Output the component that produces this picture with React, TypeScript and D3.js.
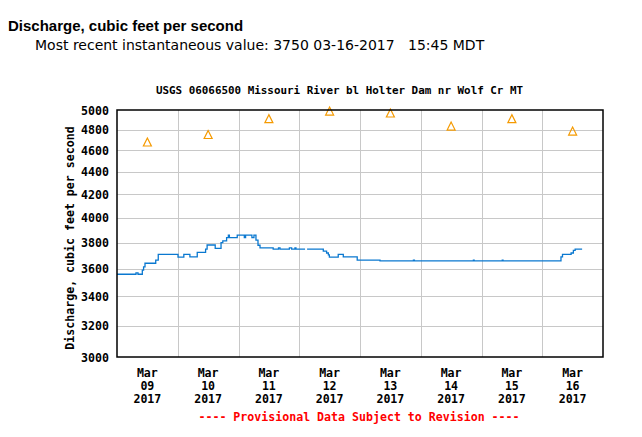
import React from "react";
import * as d3 from "d3";

// Instantaneous discharge, step changes (hours after 2017-03-09 00:00 MST, value cfs; null = gap)
const stepHours = [
  0, 7.5, 8.3, 10, 10.5, 11.06, 15.3, 16.3, 24.1, 26.4, 28.8, 31.7, 35.0, 35.6, 38.8, 41.1, 41.8,
  43.3, 44.0, 44.4, 47.5, 50.3, 50.8, 53.3, 54.1, 54.9, 55.7, 56.5, 61.7, 63.8, 64.4, 68.1, 69.0,
  70.3, 70.7, 74.3, 74.35, 75.1, 81.5, 82.8, 83.5, 83.9, 87.4, 89.4, 94.9, 103.9, 117.1, 117.5, 140.8,
  141.1, 152.2, 152.5, 175.4, 176.0, 179.4, 180.3, 181.0, 183.75,
];
const stepValues: (number | null)[] = [
  3560, 3570, 3560, 3590, 3615, 3642, 3666, 3710, 3688, 3710, 3690, 3725, 3750, 3782, 3755, 3800, 3815,
  3840, 3860, 3840, 3860, 3840, 3860, 3840, 3860, 3820, 3780, 3760, 3750, 3760, 3750, 3760, 3750,
  3760, 3750, 3750, null, 3750, 3735, 3720, 3705, 3688, 3710, 3690, 3665, 3660, 3665, 3660, 3665,
  3660, 3665, 3660, 3690, 3710, 3720, 3740, 3750, 3750,
];

// Median daily statistic (triangles), at noon of each day
const medianDays = ["2017-03-09", "2017-03-10", "2017-03-11", "2017-03-12", "2017-03-13", "2017-03-14", "2017-03-15", "2017-03-16"];
const medianValues = [4675, 4748, 4906, 4984, 4964, 4832, 4906, 4782];

const yTicks = [3000, 3200, 3400, 3600, 3800, 4000, 4200, 4400, 4600, 4800, 5000];
const xTickDays = ["2017-03-09", "2017-03-10", "2017-03-11", "2017-03-12", "2017-03-13", "2017-03-14", "2017-03-15", "2017-03-16"];
const xLabelMonth = "Mar";
const xLabelYear = "2017";

const W = 642, H = 437;
const L = 117, R = 603, T = 110, B = 357;
const mono = "'DejaVu Sans Mono', 'Liberation Mono', monospace";

function parseDay(s: string) {
  const [y, m, d] = s.split("-").map(Number);
  return new Date(y, m - 1, d);
}

export default function App() {
  const start = parseDay("2017-03-09");
  const end = parseDay("2017-03-17");
  const x = d3.scaleTime().domain([start, end]).range([L, R]);
  const y = d3.scaleLog().domain([3000, 5000]).range([B, T]);

  const pts = stepHours.map((h, i) => ({ t: new Date(start.getTime() + h * 3600000), v: stepValues[i] }));
  const line = d3
    .line<{ t: Date; v: number | null }>()
    .defined((d) => d.v !== null)
    .x((d) => x(d.t))
    .y((d) => y(d.v as number))
    .curve(d3.curveStepAfter);

  const tri = (cx: number, cy: number) =>
    d3.line()([
      [cx, cy - 4.5],
      [cx - 4, cy + 3.5],
      [cx + 4, cy + 3.5],
    ]) + "Z";

  const noon = (s: string) => new Date(parseDay(s).getTime() + 12 * 3600000);

  const vGrid = d3.timeDay.range(d3.timeDay.offset(start, 1), end);

  return (
    <svg width={W} height={H} style={{ position: "absolute", left: 0, top: 0, background: "#fff" }}>
      <rect x={0} y={0} width={W} height={H} fill="#fff" />
      <text x={8} y={31} fontFamily="'Liberation Sans', Arial, sans-serif" fontWeight="bold" fontSize={15} fill="#000">
        Discharge, cubic feet per second
      </text>
      <text x={35} y={50} fontFamily="'DejaVu Sans', Verdana, sans-serif" fontSize={14} fill="#000" style={{ whiteSpace: "pre" }}>
        {"Most recent instantaneous value: 3750 03-16-2017   15:45 MDT"}
      </text>
      <text x={339.5} y={94} textAnchor="middle" fontFamily={mono} fontWeight="bold" fontSize={10.9} fill="#000">
        USGS 06066500 Missouri River bl Holter Dam nr Wolf Cr MT
      </text>

      {/* grid */}
      {yTicks.slice(1, -1).map((v) => (
        <line key={"h" + v} x1={L} x2={R} y1={Math.round(y(v)) + 0.5} y2={Math.round(y(v)) + 0.5} stroke="#c8c8c8" strokeWidth={1} />
      ))}
      {vGrid.map((d) => (
        <line key={"v" + d.getTime()} x1={Math.round(x(d)) + 0.5} x2={Math.round(x(d)) + 0.5} y1={T} y2={B} stroke="#c8c8c8" strokeWidth={1} />
      ))}

      {/* data line */}
      <path d={line(pts) || ""} fill="none" stroke="#0a78d0" strokeWidth={1.3} />

      {/* median triangles */}
      {medianDays.map((d, i) => (
        <path key={d} d={tri(x(noon(d)), y(medianValues[i]))} fill="none" stroke="#f59a00" strokeWidth={1.2} />
      ))}

      {/* frame */}
      <rect x={L} y={T} width={R - L} height={B - T} fill="none" stroke="#000" strokeWidth={1.5} />

      {/* y ticks */}
      {yTicks.map((v) => (
        <text key={"yt" + v} x={L - 8} y={y(v) + 4.5} textAnchor="end" fontFamily={mono} fontWeight="bold" fontSize={11.6} fill="#000">
          {v}
        </text>
      ))}
      <text
        transform={`translate(74,238) rotate(-90)`}
        textAnchor="middle"
        fontFamily={mono}
        fontWeight="bold"
        fontSize={11.6}
        fill="#000"
      >
        Discharge, cubic feet per second
      </text>

      {/* x labels */}
      {xTickDays.map((d) => {
        const cx = x(noon(d));
        const day = d.slice(8, 10);
        return (
          <g key={"xt" + d} fontFamily={mono} fontWeight="bold" fontSize={11.6} fill="#000" textAnchor="middle">
            <text x={cx} y={377}>{xLabelMonth}</text>
            <text x={cx} y={390}>{day}</text>
            <text x={cx} y={403}>{xLabelYear}</text>
          </g>
        );
      })}

      <text x={359} y={421} textAnchor="middle" fontFamily={mono} fontWeight="bold" fontSize={11.6} fill="#f00" style={{ whiteSpace: "pre" }}>
        ---- Provisional Data Subject to Revision ----
      </text>
    </svg>
  );
}
